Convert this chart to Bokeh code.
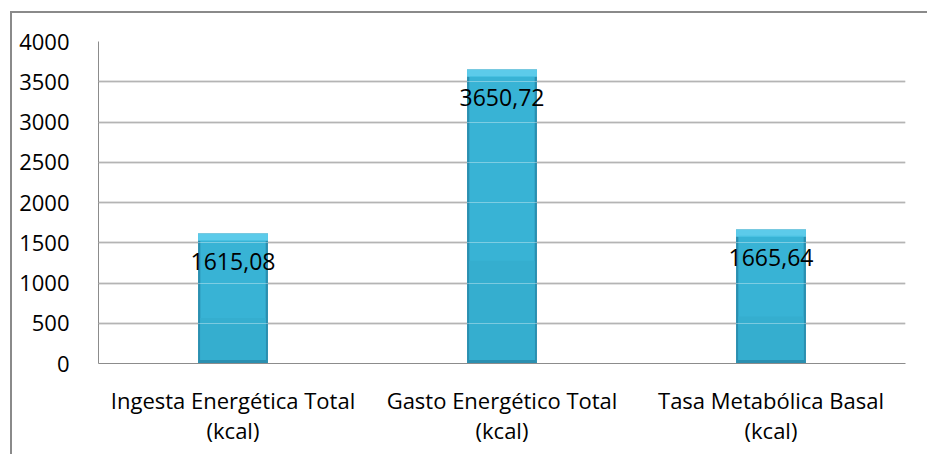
from bokeh.plotting import figure
from bokeh.models import FactorRange, Range1d, SingleIntervalTicker, Grid, ColumnDataSource
from bokeh.core.properties import value
from bokeh.embed import file_html
from bokeh.resources import INLINE

# ---- data ----
categories = ["Ingesta Energética Total\n(kcal)",
              "Gasto Energético Total\n(kcal)",
              "Tasa Metabólica Basal\n(kcal)"]
values = [1615.08, 3650.72, 1665.64]
labels = [f"{v:.2f}".replace(".", ",") for v in values]
y_max = 4000
y_step = 500

FONT = "Open Sans"
GRID = "#8c8c8c"

src = ColumnDataSource(dict(
    cat=categories,
    val=values,
    lab=labels,
    inner_top=[v - 80 for v in values],
    inner_bot=[45 for _ in values],
    bevel_bot=[v - 90 for v in values],
    lower_top=[v * 0.35 for v in values],
))

p = figure(x_range=FactorRange(*categories), y_range=Range1d(0, y_max),
           width=917, height=443, output_backend="svg", toolbar_location=None,
           min_border_left=86, min_border_right=24, min_border_top=28, min_border_bottom=93)
p.styles = {"margin-left": "10px", "margin-top": "11px",
            "border-left": "2px solid #8a8a8a", "border-top": "2px solid #8a8a8a"}

p.outline_line_color = None
p.background_fill_color = "white"
p.border_fill_color = "white"

# bars: edge, body, lower shade, top bevel
p.vbar(x="cat", top="val", bottom=0, width=0.26, source=src,
       fill_color="#2a8fb0", line_color=None)
p.vbar(x="cat", top="inner_top", bottom="inner_bot", width=0.243, source=src,
       fill_color="#38b3d5", line_color=None)
p.vbar(x="cat", top="lower_top", bottom="inner_bot", width=0.243, source=src,
       fill_color="#35aecf", line_color=None)
p.vbar(x="cat", top="val", bottom="bevel_bot", width=0.26, source=src,
       fill_color="#5ccbea", line_color=None)
p.vbar(x="cat", top="bevel_bot", bottom="inner_top", width=0.24, source=src,
       fill_color="#45bfe0", line_color=None)

# value labels
p.text(x="cat", y="val", text="lab", source=src, y_offset=28,
       text_align="center", text_baseline="middle",
       text_font=value(FONT), text_font_size="23px", text_color="black")

# axes
ticker = SingleIntervalTicker(interval=y_step)
p.yaxis.ticker = ticker
p.yaxis.axis_line_color = GRID
p.yaxis.major_tick_line_color = None
p.yaxis.minor_tick_line_color = None
p.yaxis.major_label_standoff = 23
p.yaxis.major_label_text_font = FONT
p.yaxis.major_label_text_font_size = "22px"
p.yaxis.major_label_text_color = "black"

p.xaxis.axis_line_color = GRID
p.xaxis.major_tick_line_color = None
p.xaxis.minor_tick_line_color = None
p.xaxis.major_label_standoff = 15
p.xaxis.major_label_text_font = FONT
p.xaxis.major_label_text_font_size = "22px"
p.xaxis.major_label_text_color = "black"
p.xaxis.major_label_text_line_height = 1.0

p.xgrid.grid_line_color = None
p.ygrid.grid_line_color = GRID
p.ygrid.grid_line_width = 1.3

# faint gridlines showing through the bars
g2 = Grid(dimension=1, ticker=ticker, grid_line_color="white", grid_line_alpha=0.35,
          level="overlay")
p.add_layout(g2)

open("out.html", "w").write(file_html(p, INLINE))
